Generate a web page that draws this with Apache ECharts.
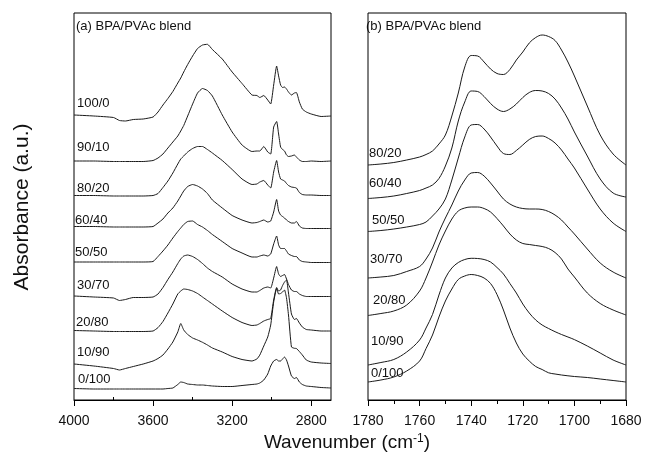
<!DOCTYPE html>
<html><head><meta charset="utf-8">
<script src="https://cdn.jsdelivr.net/npm/echarts@6/dist/echarts.min.js"></script>
<style>html,body{margin:0;padding:0;background:#fff}#c{width:645px;height:457px}</style>
</head><body><div id="c"></div>
<script>
// ---------- DATA ----------
// Panel (a): wavenumbers (cm-1)
const wnA = [4000, 3900, 3800, 3770, 3740, 3700, 3650, 3600, 3575, 3550, 3525, 3500, 3475, 3460, 3445, 3425, 3400, 3375, 3350, 3325, 3300, 3250, 3200, 3150, 3100, 3075, 3060, 3040, 3020, 3005, 2990, 2975, 2965, 2955, 2945, 2935, 2925, 2915, 2900, 2885, 2875, 2860, 2845, 2825, 2800, 2750, 2700];
const namesA = ['100/0', '90/10', '80/20', '60/40', '50/50', '30/70', '20/80', '10/90', '0/100'];
// absorbance (a.u., spectra shown offset as in the figure)
const a100_0 = [2.85, 2.84, 2.825, 2.795, 2.79, 2.805, 2.81, 2.83, 2.88, 2.95, 3.015, 3.085, 3.17, 3.22, 3.28, 3.355, 3.44, 3.515, 3.55, 3.557, 3.505, 3.41, 3.28, 3.165, 3.05, 3.045, 3.025, 3.045, 3.00, 2.96, 3.15, 3.34, 3.24, 3.15, 3.125, 3.13, 3.11, 3.08, 3.05, 3.07, 3.075, 2.98, 2.91, 2.88, 2.86, 2.835, 2.84];
const a90_10 = [2.39, 2.39, 2.385, 2.385, 2.385, 2.385, 2.385, 2.395, 2.42, 2.46, 2.52, 2.58, 2.64, 2.69, 2.745, 2.84, 2.96, 3.07, 3.115, 3.095, 3.04, 2.85, 2.68, 2.55, 2.485, 2.49, 2.49, 2.535, 2.48, 2.46, 2.73, 2.785, 2.66, 2.53, 2.505, 2.49, 2.45, 2.435, 2.44, 2.45, 2.43, 2.40, 2.385, 2.385, 2.39, 2.385, 2.39];
const a80_20 = [2.045, 2.045, 2.04, 2.04, 2.04, 2.04, 2.04, 2.045, 2.065, 2.125, 2.19, 2.27, 2.36, 2.41, 2.44, 2.48, 2.515, 2.535, 2.535, 2.505, 2.47, 2.395, 2.305, 2.21, 2.155, 2.16, 2.18, 2.195, 2.15, 2.12, 2.28, 2.395, 2.28, 2.21, 2.20, 2.19, 2.165, 2.145, 2.13, 2.125, 2.12, 2.075, 2.055, 2.05, 2.05, 2.045, 2.045];
const a60_40 = [1.735, 1.735, 1.73, 1.73, 1.73, 1.73, 1.73, 1.735, 1.77, 1.81, 1.87, 1.92, 1.99, 2.04, 2.09, 2.135, 2.155, 2.14, 2.11, 2.065, 2.00, 1.92, 1.845, 1.80, 1.77, 1.775, 1.785, 1.80, 1.78, 1.79, 1.88, 2.005, 1.89, 1.85, 1.835, 1.82, 1.80, 1.785, 1.77, 1.77, 1.785, 1.74, 1.72, 1.715, 1.715, 1.715, 1.715];
const a50_50 = [1.38, 1.38, 1.38, 1.38, 1.38, 1.38, 1.38, 1.385, 1.435, 1.49, 1.55, 1.62, 1.685, 1.72, 1.755, 1.785, 1.79, 1.755, 1.73, 1.695, 1.655, 1.585, 1.515, 1.47, 1.43, 1.43, 1.44, 1.45, 1.44, 1.46, 1.56, 1.64, 1.55, 1.515, 1.515, 1.515, 1.49, 1.46, 1.445, 1.435, 1.435, 1.40, 1.385, 1.38, 1.375, 1.375, 1.375];
const a30_70 = [1.04, 1.03, 1.02, 0.995, 1.005, 1.025, 1.025, 1.03, 1.06, 1.125, 1.205, 1.28, 1.365, 1.41, 1.44, 1.45, 1.435, 1.405, 1.365, 1.32, 1.285, 1.23, 1.16, 1.11, 1.08, 1.08, 1.095, 1.12, 1.13, 1.12, 1.22, 1.335, 1.26, 1.235, 1.245, 1.255, 1.21, 1.155, 1.10, 1.085, 1.085, 1.06, 1.045, 1.035, 1.035, 1.035, 1.035];
const a20_80 = [0.695, 0.69, 0.685, 0.685, 0.685, 0.685, 0.685, 0.69, 0.724, 0.785, 0.87, 0.96, 1.06, 1.09, 1.11, 1.105, 1.09, 1.065, 1.03, 0.995, 0.96, 0.89, 0.825, 0.775, 0.745, 0.75, 0.765, 0.79, 0.805, 0.815, 1.00, 1.125, 1.09, 1.10, 1.145, 1.18, 1.20, 1.07, 0.86, 0.805, 0.815, 0.77, 0.73, 0.705, 0.70, 0.69, 0.69];
const a10_90 = [0.36, 0.34, 0.315, 0.30, 0.315, 0.335, 0.36, 0.39, 0.415, 0.45, 0.51, 0.58, 0.68, 0.765, 0.70, 0.655, 0.62, 0.60, 0.577, 0.55, 0.52, 0.48, 0.435, 0.405, 0.39, 0.41, 0.45, 0.54, 0.63, 0.75, 0.98, 1.115, 1.06, 1.065, 1.08, 1.10, 1.02, 0.85, 0.53, 0.517, 0.515, 0.485, 0.45, 0.40, 0.38, 0.37, 0.365];
const a0_100 = [0.115, 0.11, 0.11, 0.11, 0.11, 0.11, 0.11, 0.11, 0.11, 0.11, 0.115, 0.12, 0.155, 0.18, 0.175, 0.16, 0.155, 0.15, 0.15, 0.145, 0.14, 0.135, 0.135, 0.145, 0.155, 0.16, 0.17, 0.20, 0.26, 0.34, 0.39, 0.405, 0.39, 0.39, 0.41, 0.43, 0.40, 0.34, 0.24, 0.215, 0.225, 0.18, 0.155, 0.14, 0.135, 0.125, 0.12];
const valsA = [a100_0, a90_10, a80_20, a60_40, a50_50, a30_70, a20_80, a10_90, a0_100];

// Panel (b): carbonyl region
const wnB = [1780, 1775, 1770, 1765, 1760, 1757.5, 1755, 1752.5, 1750, 1747.5, 1745, 1742.5, 1740, 1737.5, 1735, 1732.5, 1730, 1727.5, 1725, 1722.5, 1720, 1717.5, 1715, 1712.5, 1710, 1707.5, 1705, 1702.5, 1700, 1695, 1690, 1685, 1680];
const namesB = ['80/20', '60/40', '50/50', '30/70', '20/80', '10/90', '0/100'];
const b80_20 = [2.35, 2.36, 2.375, 2.40, 2.43, 2.455, 2.49, 2.56, 2.65, 2.84, 3.07, 3.33, 3.445, 3.44, 3.38, 3.31, 3.265, 3.255, 3.305, 3.40, 3.48, 3.57, 3.625, 3.65, 3.635, 3.595, 3.50, 3.38, 3.24, 2.94, 2.65, 2.46, 2.35];
const b60_40 = [2.015, 2.025, 2.04, 2.065, 2.095, 2.12, 2.15, 2.215, 2.34, 2.52, 2.79, 2.98, 3.09, 3.085, 3.035, 2.965, 2.91, 2.885, 2.91, 2.96, 3.025, 3.075, 3.095, 3.09, 3.065, 3.01, 2.92, 2.81, 2.68, 2.44, 2.21, 2.07, 2.03];
const b50_50 = [1.685, 1.695, 1.71, 1.73, 1.755, 1.78, 1.84, 1.91, 2.01, 2.20, 2.42, 2.63, 2.75, 2.755, 2.71, 2.63, 2.54, 2.465, 2.455, 2.495, 2.55, 2.605, 2.635, 2.64, 2.615, 2.57, 2.50, 2.41, 2.32, 2.11, 1.91, 1.77, 1.685];
const b30_70 = [1.22, 1.23, 1.245, 1.285, 1.335, 1.41, 1.52, 1.68, 1.82, 1.95, 2.09, 2.20, 2.27, 2.275, 2.24, 2.17, 2.09, 2.01, 1.96, 1.93, 1.915, 1.91, 1.91, 1.905, 1.885, 1.85, 1.80, 1.73, 1.66, 1.51, 1.37, 1.28, 1.22];
const b20_80 = [0.845, 0.865, 0.89, 0.95, 1.09, 1.22, 1.38, 1.55, 1.69, 1.81, 1.89, 1.92, 1.93, 1.93, 1.915, 1.88, 1.815, 1.74, 1.66, 1.60, 1.565, 1.555, 1.545, 1.535, 1.515, 1.475, 1.41, 1.31, 1.23, 1.07, 0.965, 0.90, 0.85];
const b10_90 = [0.35, 0.375, 0.405, 0.48, 0.60, 0.72, 0.855, 1.05, 1.22, 1.32, 1.375, 1.405, 1.417, 1.415, 1.405, 1.38, 1.325, 1.26, 1.165, 1.07, 0.96, 0.87, 0.80, 0.75, 0.715, 0.683, 0.655, 0.63, 0.604, 0.54, 0.47, 0.40, 0.35];
const b0_100 = [0.18, 0.20, 0.23, 0.29, 0.39, 0.515, 0.65, 0.83, 0.99, 1.11, 1.205, 1.24, 1.255, 1.245, 1.22, 1.165, 1.055, 0.90, 0.72, 0.57, 0.46, 0.39, 0.335, 0.305, 0.272, 0.26, 0.25, 0.242, 0.235, 0.225, 0.21, 0.195, 0.18];
const valsB = [b80_20, b60_40, b50_50, b30_70, b20_80, b10_90, b0_100];

// Tick labels
const ticksA = [4000, 3600, 3200, 2800];
const minorTicksA = [3800, 3400, 3000];
const titleA = '(a) BPA/PVAc blend';
const titleB = '(b) BPA/PVAc blend';

// ---------- LAYOUT / STYLE ----------
const FONT = '"Liberation Sans", Arial, Helvetica, sans-serif';
const LINE = '#1a1a1a';
const TXT = '#111';
const labelPosA = [[77,103],[77,147],[77,188],[75,220],[75,252],[77,285.5],[76,322.5],[77,352.5],[78,379]];
const labelPosB = [[369,153],[369,183],[372,220],[370,259],[373,300],[371,341],[371,373]];

const chart = echarts.init(document.getElementById('c'), null, {renderer: 'canvas'});

const mkSeries = (wn, vals, axisIdx, smooth) => vals.map(v => ({
  type: 'line', xAxisIndex: axisIdx, yAxisIndex: axisIdx === 0 ? 0 : 1,
  symbol: 'none', showSymbol: false, smooth: smooth, silent: true,
  lineStyle: {color: LINE, width: 1},
  data: wn.map((w, j) => [w, v[j]])
}));

const series = [].concat(mkSeries(wnA, valsA, 0, 0.15), mkSeries(wnB, valsB, 2, 0.35));

const txtStyle = (text, size) => ({text: text, font: size + 'px ' + FONT, fill: TXT, align: 'left', verticalAlign: 'middle', textAlign: 'left', textVerticalAlign: 'middle'});
const graphics = [];
namesA.forEach((n, i) => graphics.push({type: 'text', x: labelPosA[i][0], y: labelPosA[i][1], silent: true, style: txtStyle(n, 13)}));
namesB.forEach((n, i) => graphics.push({type: 'text', x: labelPosB[i][0], y: labelPosB[i][1], silent: true, style: txtStyle(n, 13)}));
graphics.push({type: 'text', x: 76, y: 26, style: txtStyle(titleA, 13)});
graphics.push({type: 'text', x: 366, y: 26, style: txtStyle(titleB, 13)});
graphics.push({type: 'text', x: 347, y: 443, style: {text: 'Wavenumber (cm{sup|-1})', font: '19px ' + FONT, fill: TXT,
  align: 'center', verticalAlign: 'middle', textAlign: 'center', textVerticalAlign: 'middle',
  rich: {sup: {fontSize: 12, fontFamily: FONT, fill: TXT, padding: [0, 0, 9, 0]}}}});
graphics.push({type: 'text', x: 22, y: 207, rotation: Math.PI / 2, style: {text: 'Absorbance (a.u.)', font: '21px ' + FONT, fill: TXT,
  align: 'center', verticalAlign: 'middle', textAlign: 'center', textVerticalAlign: 'middle'}});

const axisLineStyle = {color: '#000', width: 1};
const plain = v => String(v);
const option = {
  animation: false,
  backgroundColor: '#fff',
  grid: [
    {left: 74, top: 13, width: 257, height: 387, show: true, borderColor: '#000', borderWidth: 1},
    {left: 368, top: 13, width: 258, height: 387, show: true, borderColor: '#000', borderWidth: 1}
  ],
  xAxis: [
    {gridIndex: 0, type: 'value', inverse: true, min: 2700, max: 4000,
      axisLine: {show: true, onZero: false, lineStyle: axisLineStyle},
      axisTick: {show: true, length: 6, customValues: ticksA, lineStyle: axisLineStyle},
      axisLabel: {show: true, customValues: ticksA, formatter: plain, fontSize: 14, fontFamily: FONT, color: TXT, margin: 14},
      splitLine: {show: false}},
    {gridIndex: 0, type: 'value', inverse: true, min: 2700, max: 4000,
      axisLine: {show: false},
      axisTick: {show: true, length: 3, customValues: minorTicksA, lineStyle: axisLineStyle},
      axisLabel: {show: false}, splitLine: {show: false}},
    {gridIndex: 1, type: 'value', inverse: true, min: 1680, max: 1780, interval: 20,
      axisLine: {show: true, onZero: false, lineStyle: axisLineStyle},
      axisTick: {show: true, length: 6, lineStyle: axisLineStyle},
      minorTick: {show: true, splitNumber: 2, length: 4, lineStyle: axisLineStyle},
      axisLabel: {show: true, formatter: plain, fontSize: 14, fontFamily: FONT, color: TXT, margin: 14, showMinLabel: true, showMaxLabel: true},
      splitLine: {show: false}, minorSplitLine: {show: false}}
  ],
  yAxis: [
    {gridIndex: 0, type: 'value', min: 0, max: 3.87, show: false},
    {gridIndex: 1, type: 'value', min: 0, max: 3.87, show: false}
  ],
  series: series,
  graphic: graphics
};
chart.setOption(option);
</script>
</body></html>
